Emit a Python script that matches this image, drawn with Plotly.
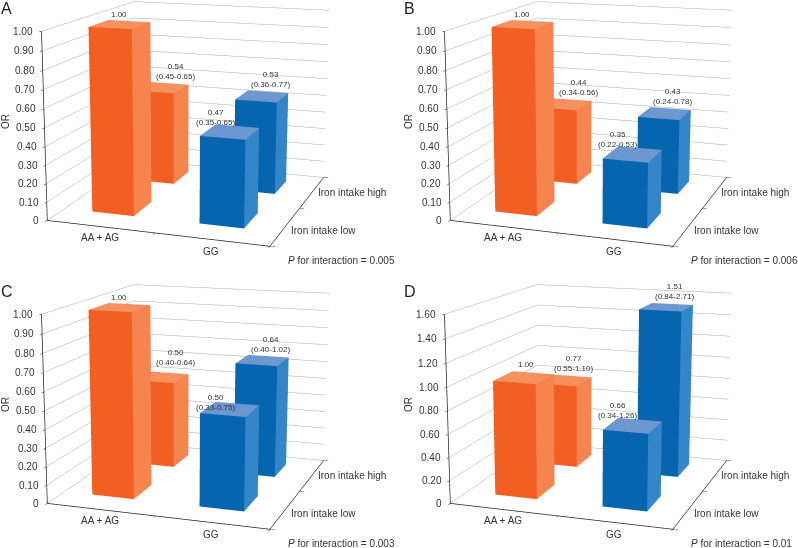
import plotly.graph_objects as go

panel_letters = ["A", "B", "C", "D"]
or_values = [[1.00, 0.54, 0.47, 0.53], [1.00, 0.44, 0.35, 0.43], [1.00, 0.50, 0.50, 0.64], [1.00, 0.77, 0.66, 1.51]]
ci_labels = [["", "(0.45-0.65)", "(0.35-0.65)", "(0.36-0.77)"], ["", "(0.34-0.56)", "(0.22-0.53)", "(0.24-0.78)"],
             ["", "(0.40-0.64)", "(0.33-0.75)", "(0.40-1.02)"], ["", "(0.55-1.10)", "(0.34-1.26)", "(0.84-2.71)"]]
p_labels = ["0.005", "0.006", "0.003", "0.01"]
z_maxes = [1.0, 1.0, 1.0, 1.6]
z_steps = [0.1, 0.1, 0.1, 0.2]
genotypes = ["AA + AG", "GG"]
intakes = ["Iron intake low", "Iron intake high"]

W, H = 798, 548
pan = [(0, 0), (403, 0), (0, 283), (403, 283)]

# One wide-lens camera shared by the four 3D scenes; the scenes are larger than their
# panels so the perspective of the original can be reached.
eye = dict(x=1.529, y=-4.591, z=1.101)
look = dict(x=-0.085, y=0.042, z=-0.108)
aspect = dict(x=1, y=1.052, z=0.831)
cx, cy, hs = 180, 130, 900
box0 = (cx-300, cx+300, cy-hs/2, cy+hs/2)
boxes = [(box0[0]+dx, box0[1]+dx, box0[2]+dy, box0[3]+dy) for dx, dy in pan]
xmin = min(0, min(b[0] for b in boxes)); xmax = max(W, max(b[1] for b in boxes))
ymin = min(0, min(b[2] for b in boxes)); ymax = max(H, max(b[3] for b in boxes))
FW, FH = xmax-xmin, ymax-ymin

ORANGE = ("#F25F22", "#F5844F", "#F6915F")
BLUE = ("#0765B0", "#3387C8", "#6D97CF")
x_centers = [0.47, 1.48]
y_centers = [0.55, 1.55]
half_x, half_y = 0.20, 0.21
label_shift = [(-19, -2), (-2, -1), (-31, -4), (-6, -1)]
label_nudge = {(2, 1): (0, 3), (2, 2): (0, -8), (3, 1): (-5, 0), (3, 0): (4, 2)}


def bar(scene, xc, yc, h, cols):
    x0, x1, y0, y1 = xc-half_x, xc+half_x, yc-half_y, yc+half_y
    xs = [x0, x1, x1, x0, x0, x1, x1, x0]
    ys = [y0, y0, y1, y1, y0, y0, y1, y1]
    zs = [0, 0, 0, 0, h, h, h, h]
    tri = [(0,1,5,0),(0,5,4,0),(1,2,6,1),(1,6,5,1),(4,5,6,2),(4,6,7,2),(3,2,6,0),(3,6,7,0),(0,3,7,1),(0,7,4,1),(0,1,2,0),(0,2,3,0)]
    return go.Mesh3d(x=xs, y=ys, z=zs, i=[t[0] for t in tri], j=[t[1] for t in tri], k=[t[2] for t in tri],
                     facecolor=[cols[t[3]] for t in tri], flatshading=True, hoverinfo="skip", showscale=False,
                     lighting=dict(ambient=1, diffuse=0, specular=0, roughness=1, fresnel=0), scene=scene)


fig = go.Figure()
TXT = "#333333"
FONT = "Liberation Sans"
for n in range(4):
    sc = "scene" if n == 0 else f"scene{n+1}"
    vals = or_values[n]
    order = [(0, 0, ORANGE), (1, 0, ORANGE), (0, 1, BLUE), (1, 1, BLUE)]
    ann = []
    for idx, (row, col, cols) in enumerate(order):
        fig.add_trace(bar(sc, x_centers[col], y_centers[row], vals[idx], cols))
        txt = f"{vals[idx]:.2f}" + ("<br>"+ci_labels[n][idx] if ci_labels[n][idx] else "")
        nx, ny = label_nudge.get((n, idx), (0, 0))
        ann.append(dict(x=x_centers[col]+half_x*0.4, y=y_centers[row]+half_y, z=vals[idx], text=txt, showarrow=False,
                        yanchor="bottom", xshift=label_shift[idx][0]+nx, yshift=2+label_shift[idx][1]+ny,
                        font=dict(size=8, color=TXT, family=FONT)))
    zm, st = z_maxes[n], z_steps[n]
    ticks = [round(i*st, 2) for i in range(int(round(zm/st))+1)]
    for t in ticks:
        ann.append(dict(x=0, y=0, z=t, text="0" if t == 0 else f"{t:.2f}", showarrow=False, xanchor="right", xshift=-6,
                        font=dict(size=10, color=TXT, family=FONT)))
    ann.append(dict(x=0.5, y=0, z=0, text=genotypes[0], showarrow=False, yanchor="top", yshift=-3, font=dict(size=10, color=TXT, family=FONT)))
    ann.append(dict(x=1.5, y=0, z=0, text=genotypes[1], showarrow=False, yanchor="top", yshift=-5, font=dict(size=10, color=TXT, family=FONT)))
    ann.append(dict(x=2, y=0.5, z=0, text=intakes[0], showarrow=False, xanchor="left", xshift=4, yshift=-4, font=dict(size=10, color=TXT, family=FONT)))
    ann.append(dict(x=2, y=1.5, z=0, text=intakes[1], showarrow=False, xanchor="left", xshift=4, yshift=0, font=dict(size=10, color=TXT, family=FONT)))
    b = boxes[n]
    hide = dict(showbackground=False, showgrid=False, zeroline=False, showspikes=False, showticklabels=False, title="",
                showline=True, linecolor="#222222", linewidth=1.5, ticks="outside", ticklen=4, tickcolor="#222222")
    fig.update_layout({sc: dict(
        domain=dict(x=[(b[0]-xmin)/FW, (b[1]-xmin)/FW], y=[1-(b[3]-ymin)/FH, 1-(b[2]-ymin)/FH]),
        xaxis=dict(hide, range=[0, 2], tick0=0, dtick=1),
        yaxis=dict(hide, range=[0, 2], tick0=0, dtick=1),
        zaxis=dict(hide, range=[0, zm], tick0=0, dtick=st, showgrid=True, gridcolor="#a8a8a8", gridwidth=1),
        aspectmode="manual", aspectratio=aspect,
        camera=dict(eye=eye, center=look, up=dict(x=0, y=0, z=1)),
        annotations=ann, bgcolor="rgba(0,0,0,0)")})


def px(x):
    return (x-xmin)/FW


def py(y):
    return 1-(y-ymin)/FH


paper = []
for n, (dx, dy) in enumerate(pan):
    paper.append(dict(x=px(dx-1), y=py(dy+8), xref="paper", yref="paper", text=panel_letters[n], showarrow=False, xanchor="left", yanchor="middle", font=dict(size=16, color="#222", family=FONT)))
    paper.append(dict(x=px(dx+5), y=py(dy+122), xref="paper", yref="paper", text="OR", textangle=-90, showarrow=False, xanchor="center", yanchor="middle", font=dict(size=10, color=TXT, family=FONT)))
    paper.append(dict(x=px(dx+286), y=py(dy+260), xref="paper", yref="paper", text=f"<i>P</i> for interaction = {p_labels[n]}", showarrow=False, xanchor="left", yanchor="middle", font=dict(size=10, color=TXT, family=FONT)))
fig.update_layout(width=FW, height=FH, margin=dict(l=0, r=0, t=0, b=0), paper_bgcolor="white", showlegend=False, annotations=paper, hovermode=False)
fig.write_html("out.html", config=dict(displayModeBar=False),
               post_script=f"document.body.style.margin='0';document.body.style.marginLeft='{xmin}px';document.body.style.marginTop='{ymin}px';document.documentElement.style.overflow='hidden';")
